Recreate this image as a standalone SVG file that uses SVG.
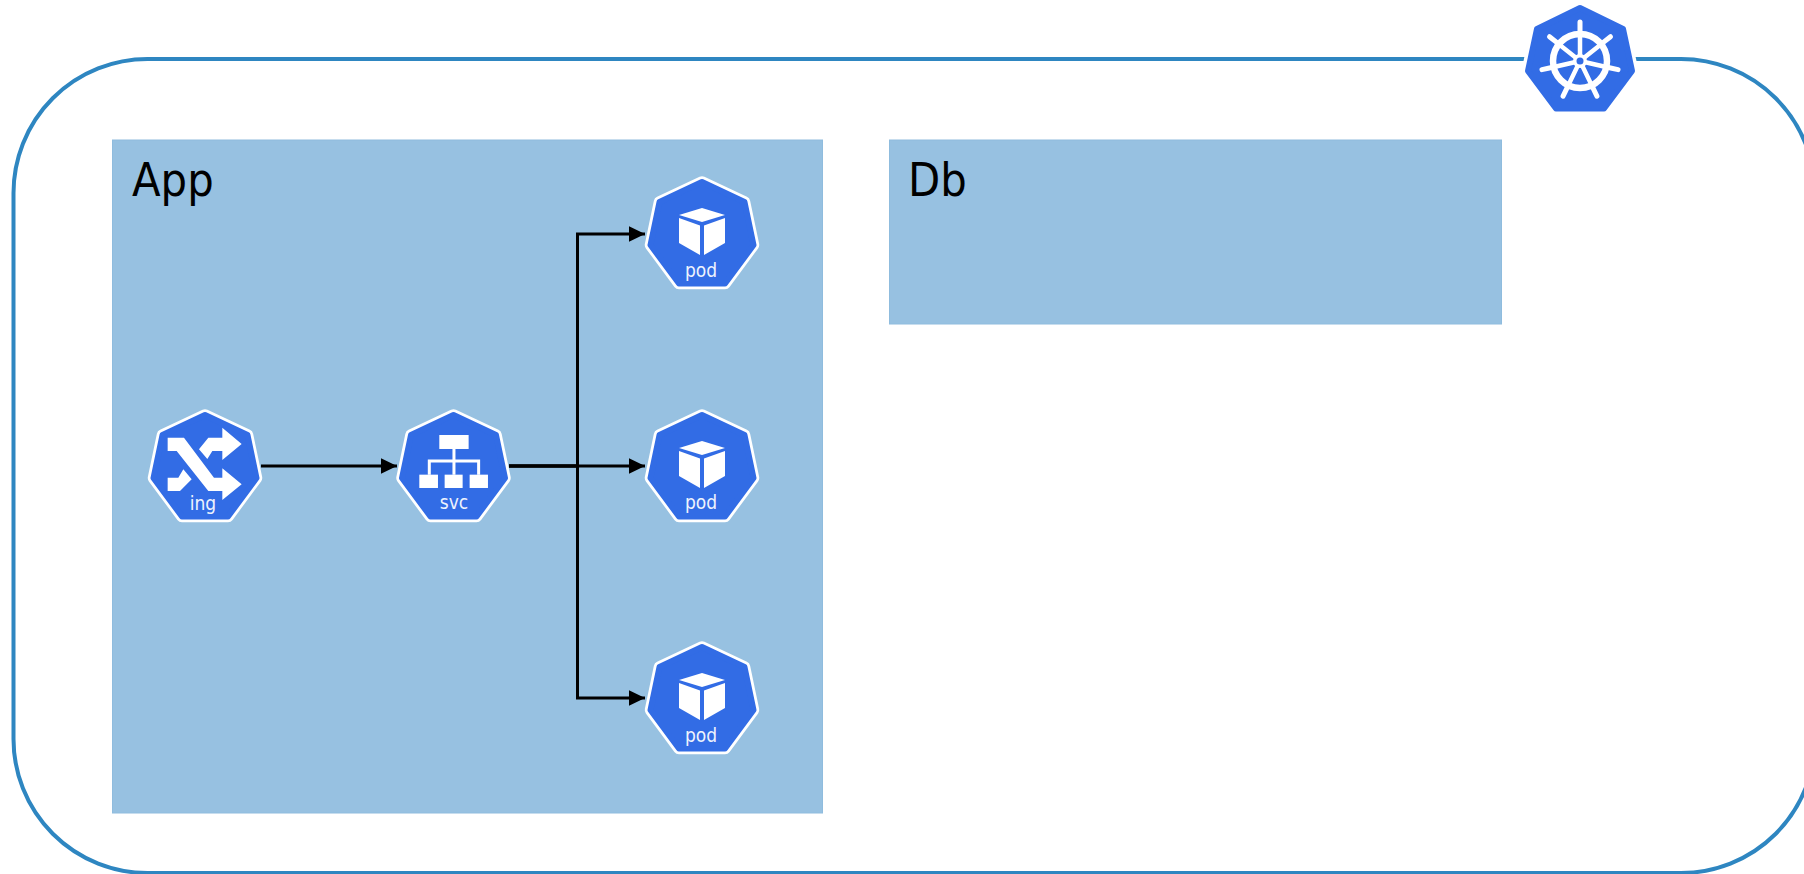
<svg xmlns="http://www.w3.org/2000/svg" xmlns:xlink="http://www.w3.org/1999/xlink" width="1804" height="874" viewBox="0 0 1804 874">
<style>
.outer{fill:#fff;stroke:#2e86c1;stroke-width:4}
.ns{fill:#97c1e1;stroke:#8fbcde;stroke-width:1}
.title{font-family:"DejaVu Sans Condensed","DejaVu Sans",sans-serif;font-size:46.5px;fill:#000}
.hw{fill:#fff;stroke:#fff;stroke-width:11.5;stroke-linejoin:round}
.hb{fill:#326ce5;stroke:#326ce5;stroke-width:6;stroke-linejoin:round}
.lbl{font-family:"DejaVu Sans Condensed","DejaVu Sans",sans-serif;font-size:19px;fill:#eef3fd;text-anchor:middle}
.ic{fill:#fff}
.wire{fill:none;stroke:#000;stroke-width:3}
</style>
<defs>
<marker id="arr" markerUnits="userSpaceOnUse" markerWidth="16" markerHeight="16" refX="16" refY="8" orient="auto"><path d="M0 0.3L16 8L0 15.7Z" fill="#000"/></marker>
<g id="hept">
<polygon class="hw" points="0,-51 42.500,-31 51.500,12 23,50.500 -23,50.500 -51.500,12 -42.500,-31"/>
<polygon class="hb" points="0,-51 42.500,-31 51.500,12 23,50.500 -23,50.500 -51.500,12 -42.500,-31"/>
</g>
<g id="cube" class="ic">
<polygon points="0,-27 23,-20 0,-13 -23,-20"/>
<polygon points="-23,-17 -2,-9.500 -2,20 -23,8"/>
<polygon points="2,-9.500 23,-17 23,8 2,20"/>
</g>
</defs>
<rect id="cluster" class="outer" x="13.500" y="59" width="1801.500" height="814" rx="134" ry="134"/>
<g id="ns-app"><rect class="ns" x="112.500" y="140" width="710" height="673"/><text class="title" x="132" y="196">App</text></g>
<g id="ns-db"><rect class="ns" x="889.500" y="140" width="612" height="184"/><text class="title" x="908" y="196">Db</text></g>
<g id="connectors">
<path class="wire" d="M261 466H397" marker-end="url(#arr)"/>
<path class="wire" d="M509 466H645" marker-end="url(#arr)"/>
<path class="wire" d="M509 466H577.500V234H645" marker-end="url(#arr)"/>
<path class="wire" d="M509 466H577.500V698H645" marker-end="url(#arr)"/>
</g>
<g id="ing"><use xlink:href="#hept" href="#hept" x="205" y="466"/>
<g class="ic" transform="translate(130,390) scale(.3333)">
<polygon points="113,143 162,143 252,263 277,263 277,235 335,283 277,330 277,303 235,303 140,183 113,183"/>
<polygon points="277,113 335,162 277,210 277,183 247,183 232,207 207,178 235,143 277,143"/>
<polygon points="113,263 145,263 160,238 185,268 150,303 113,303"/>
</g>
<text class="lbl" x="203" y="510">ing</text></g>
<g id="svc"><use xlink:href="#hept" href="#hept" x="453.500" y="466"/>
<g class="ic" transform="translate(130,390) scale(.3333)">
<rect x="928" y="135" width="88" height="42"/>
<rect x="868" y="254" width="56" height="40"/><rect x="944" y="254" width="54" height="40"/><rect x="1019" y="254" width="55" height="40"/>
<path d="M972 177V254M898 254V213H1046V254" fill="none" stroke="#fff" stroke-width="9"/>
</g>
<text class="lbl" x="454" y="509">svc</text></g>
<g id="pod1"><use xlink:href="#hept" href="#hept" x="702" y="233"/><use xlink:href="#cube" href="#cube" x="702" y="235"/><text class="lbl" x="701" y="277">pod</text></g>
<g id="pod2"><use xlink:href="#hept" href="#hept" x="702" y="466"/><use xlink:href="#cube" href="#cube" x="702" y="468"/><text class="lbl" x="701" y="509">pod</text></g>
<g id="pod3"><use xlink:href="#hept" href="#hept" x="702" y="698"/><use xlink:href="#cube" href="#cube" x="702" y="700"/><text class="lbl" x="701" y="742">pod</text></g>
<g id="k8s-logo" transform="translate(1580,61)">
<polygon points="0,-53 43,-32 52,10 24,47.500 -24,47.500 -52,10 -43,-32" fill="#fff" stroke="#fff" stroke-width="13" stroke-linejoin="round"/>
<polygon points="0,-53 43,-32 52,10 24,47.500 -24,47.500 -52,10 -43,-32" fill="#326ce5" stroke="#326ce5" stroke-width="6" stroke-linejoin="round"/>
<circle r="27" fill="none" stroke="#fff" stroke-width="6.500"/>
<g stroke="#fff" stroke-width="5" stroke-linecap="round">
<g id="sp"><path d="M0 -29V-39"/><path d="M0 -29V0" stroke-width="4.500"/></g>
<use xlink:href="#sp" href="#sp" transform="rotate(51.43)"/><use xlink:href="#sp" href="#sp" transform="rotate(102.86)"/><use xlink:href="#sp" href="#sp" transform="rotate(154.29)"/><use xlink:href="#sp" href="#sp" transform="rotate(205.71)"/><use xlink:href="#sp" href="#sp" transform="rotate(257.14)"/><use xlink:href="#sp" href="#sp" transform="rotate(308.57)"/>
</g>
<circle r="7" fill="#fff"/><circle r="3.500" fill="#326ce5"/>
</g>
</svg>
